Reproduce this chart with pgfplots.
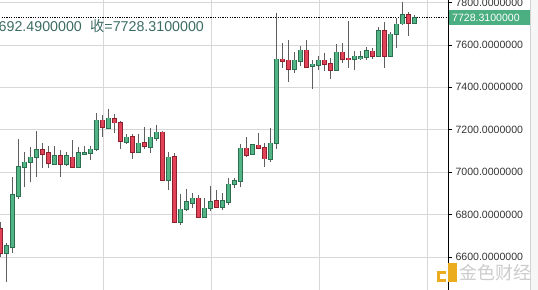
\documentclass[border=0pt]{standalone}
\usepackage{pgfplots}
\pgfplotsset{compat=1.18}
\usepackage{pgfplotstable}
\usepackage{fontspec}
\setmainfont{Liberation Sans}
\newfontfamily\cjk{Noto Sans CJK SC}
\definecolor{upf}{RGB}{82,180,132}
\definecolor{upd}{RGB}{44,110,80}
\definecolor{dnf}{RGB}{226,66,88}
\definecolor{dnd}{RGB}{140,32,44}
\definecolor{wick}{RGB}{95,95,95}
\definecolor{gridc}{RGB}{215,215,215}
\definecolor{txt}{RGB}{58,108,98}
\definecolor{lblg}{RGB}{76,175,130}
\definecolor{gold}{RGB}{236,172,32}

\pgfplotstableread{
i o h l c
0 6732.3 6765.3 6600.0 6619.2
1 6619.2 6666.3 6482.5 6652.2
2 6647.4 6977.4 6619.2 6892.6
3 6887.9 7156.6 6873.7 7024.6
4 7024.6 7095.3 6930.3 7048.1
5 7048.1 7118.8 6953.9 7071.7
6 7071.7 7194.3 6977.4 7104.7
7 7104.7 7137.7 7019.8 7085.8
8 7090.6 7123.6 7019.8 7043.4
9 7038.7 7123.6 7034.0 7076.4
10 7076.4 7104.7 6977.4 7038.7
11 7038.7 7095.3 7029.3 7076.4
12 7071.7 7151.8 7019.8 7024.6
13 7024.6 7118.8 7019.8 7090.6
14 7085.8 7123.6 7085.8 7090.6
15 7090.6 7123.6 7057.6 7109.4
16 7109.4 7279.1 7100.0 7246.1
17 7246.1 7269.7 7166.0 7213.1
18 7208.4 7298.0 7203.7 7255.5
19 7250.8 7274.4 7184.8 7232.0
20 7232.0 7241.4 7109.4 7147.1
21 7142.4 7180.1 7133.0 7166.0
22 7166.0 7180.1 7062.3 7095.3
23 7095.3 7180.1 7090.6 7137.7
24 7137.7 7213.1 7109.4 7123.6
25 7118.8 7208.4 7090.6 7166.0
26 7161.3 7222.6 7147.1 7189.5
27 7189.5 7194.3 6958.6 6963.3
28 6963.3 7095.3 6916.1 7071.7
29 7071.7 7090.6 6760.6 6765.3
30 6765.3 6897.3 6751.2 6826.6
31 6826.6 6920.9 6817.1 6859.6
32 6854.9 6902.0 6831.3 6878.4
33 6878.4 6892.6 6788.9 6788.9
34 6788.9 6878.4 6784.1 6831.3
35 6831.3 6935.0 6817.1 6859.6
36 6864.3 6916.1 6831.3 6836.0
37 6836.0 6902.0 6821.9 6864.3
38 6859.6 6972.7 6845.4 6944.4
39 6944.4 6972.7 6925.6 6958.6
40 6958.6 7133.0 6930.3 7114.1
41 7114.1 7166.0 7071.7 7081.1
42 7085.8 7133.0 7081.1 7128.3
43 7128.3 7184.8 7114.1 7114.1
44 7114.1 7137.7 7024.6 7062.3
45 7062.3 7208.4 7048.1 7137.7
46 7137.7 7750.5 7109.4 7533.6
47 7533.6 7609.1 7491.2 7524.2
48 7528.9 7623.2 7425.3 7486.5
49 7486.5 7566.7 7467.7 7528.9
50 7524.2 7595.0 7500.7 7576.1
51 7576.1 7623.2 7491.2 7495.9
52 7500.7 7528.9 7392.3 7510.1
53 7505.4 7547.8 7481.8 7528.9
54 7528.9 7561.9 7477.1 7510.1
55 7510.1 7538.4 7439.4 7481.8
56 7481.8 7604.4 7477.1 7566.7
57 7566.7 7609.1 7514.8 7533.6
58 7538.4 7712.8 7491.2 7533.6
59 7533.6 7571.4 7481.8 7547.8
60 7538.4 7571.4 7528.9 7543.1
61 7543.1 7590.3 7528.9 7571.4
62 7571.4 7585.5 7533.6 7547.8
63 7547.8 7684.5 7543.1 7665.7
64 7665.7 7708.1 7491.2 7547.8
65 7547.8 7661.0 7543.1 7651.5
66 7651.5 7727.0 7585.5 7698.7
67 7698.7 7802.4 7694.0 7741.1
68 7741.1 7755.2 7642.1 7703.4
69 7703.4 7741.1 7698.7 7728.31
}\ohlc

\begin{document}
\begin{tikzpicture}
\useasboundingbox (0,0) rectangle (538bp,290bp);
\fill[gray!7] (530bp,0) rectangle (538bp,290bp);
\draw[gray!35, line width=0.8bp] (530.5bp,0) -- (530.5bp,290bp);
\begin{axis}[
  at={(0,0)}, anchor=south west,
  scale only axis, width=448bp, height=290bp,
  xmin=-0.0833, xmax=74.583, ymin=6444.7, ymax=7811.8,
  axis y line*=right, axis x line*=bottom,
  x axis line style={draw=none},
  y axis line style={black, line width=0.8bp},
  xtick={17.08,35.08,53.08,71.08}, xticklabels={},
  xmajorgrids, ymajorgrids,
  grid style={gridc, line width=0.8bp},
  major x tick style={draw=none},
  ytick={6600,6800,...,7800},
  tick align=outside, major tick length=4bp,
  major y tick style={black, line width=0.6bp},
  yticklabel style={font=\fontsize{10.6}{12}\selectfont, text=black!80,
    /pgf/number format/.cd, fixed, fixed zerofill, precision=7, 1000 sep={}, assume math mode=true},
  upfilt/.style={x filter/.expression={\thisrow{c}>=\thisrow{o} ? x : nan}},
  dnfilt/.style={x filter/.expression={\thisrow{c}<\thisrow{o} ? x : nan}},
  candle/.style={draw=none, mark=none, error bars/y dir=both, error bars/y explicit, error bars/error mark=none},
]
\addplot[black, line width=0.6bp, dash pattern=on 1.2bp off 1.2bp] coordinates {(-1,7728.31) (76,7728.31)};
% wicks
\addplot[candle, error bars/error bar style={draw=wick, line width=0.7bp}]
  table[x=i, y expr={(\thisrow{h}+\thisrow{l})/2}, y error expr={(\thisrow{h}-\thisrow{l})/2}] {\ohlc};
% up bodies: outline then fill
\addplot[candle, upfilt, error bars/error bar style={draw=upd, line width=5.0bp}]
  table[x=i, y expr={(\thisrow{o}+\thisrow{c})/2}, y error expr={abs(\thisrow{c}-\thisrow{o})/2+2.4}] {\ohlc};
\addplot[candle, upfilt, error bars/error bar style={draw=upf, line width=3.6bp}]
  table[x=i, y expr={(\thisrow{o}+\thisrow{c})/2}, y error expr={abs(\thisrow{c}-\thisrow{o})/2-0.9}] {\ohlc};
% down bodies
\addplot[candle, dnfilt, error bars/error bar style={draw=dnd, line width=5.0bp}]
  table[x=i, y expr={(\thisrow{o}+\thisrow{c})/2}, y error expr={abs(\thisrow{c}-\thisrow{o})/2+2.4}] {\ohlc};
\addplot[candle, dnfilt, error bars/error bar style={draw=dnf, line width=3.6bp}]
  table[x=i, y expr={(\thisrow{o}+\thisrow{c})/2}, y error expr={abs(\thisrow{c}-\thisrow{o})/2-0.9}] {\ohlc};
\end{axis}
% price label on the axis
\fill[lblg] (448.5bp,265bp) rectangle (530bp,280bp);
\node[anchor=west, inner sep=0, text=white, font=\fontsize{10.6}{12}\selectfont] at (452bp,272.5bp) {7728.3100000};
% header text
\node[anchor=base west, inner sep=0, text=txt, font=\fontsize{14.3}{16}\selectfont] at (-1.5bp,258bp) {692.4900000};
\node[anchor=base west, inner sep=0, text=txt, font=\fontsize{14.3}{16}\selectfont] at (90bp,258bp) {{\cjk 收}=7728.3100000};
% watermark
\fill[white] (436bp,4bp) rectangle (530bp,29bp);
\draw[black, line width=0.8bp] (448bp,4bp) -- (448bp,29bp);
\fill[gold] (437bp,8bp) rectangle (446bp,19bp);
\fill[gold] (447.5bp,8bp) rectangle (457bp,27bp);
\fill[white] (440bp,11bp) rectangle (446bp,16bp);
\node[anchor=west, inner sep=0, text=gray!40, font=\cjk\fontsize{18}{18}\selectfont] at (459bp,17bp) {金色财经};
\end{tikzpicture}
\end{document}
